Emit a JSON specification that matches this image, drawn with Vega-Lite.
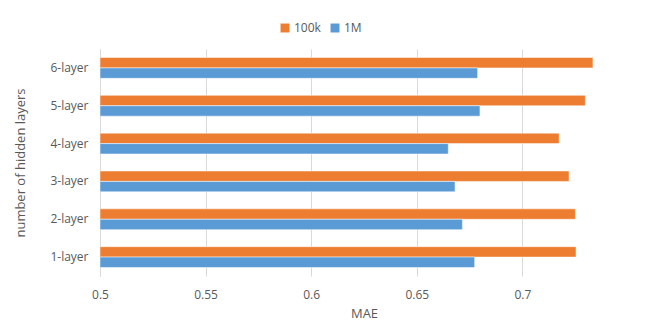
{
  "$schema": "https://vega.github.io/schema/vega-lite/v6.json",
  "autosize": "none",
  "width": 528,
  "height": 227,
  "padding": {"left": 100, "top": 49, "right": 17, "bottom": 57},
  "background": "white",
  "data": {
    "values": [
      {"layer": "6-layer", "series": "100k", "mae": 0.7334},
      {"layer": "6-layer", "series": "1M", "mae": 0.6788},
      {"layer": "5-layer", "series": "100k", "mae": 0.7298},
      {"layer": "5-layer", "series": "1M", "mae": 0.6799},
      {"layer": "4-layer", "series": "100k", "mae": 0.7174},
      {"layer": "4-layer", "series": "1M", "mae": 0.6649},
      {"layer": "3-layer", "series": "100k", "mae": 0.7221},
      {"layer": "3-layer", "series": "1M", "mae": 0.6681},
      {"layer": "2-layer", "series": "100k", "mae": 0.7251},
      {"layer": "2-layer", "series": "1M", "mae": 0.6716},
      {"layer": "1-layer", "series": "100k", "mae": 0.7254},
      {"layer": "1-layer", "series": "1M", "mae": 0.6774}
    ]
  },
  "mark": {"type": "bar", "stroke": "white", "strokeWidth": 0.5, "clip": true},
  "encoding": {
    "y": {
      "field": "layer",
      "type": "nominal",
      "sort": ["6-layer", "5-layer", "4-layer", "3-layer", "2-layer", "1-layer"],
      "scale": {"paddingInner": 0.45, "paddingOuter": 0.225},
      "axis": {
        "title": "number of hidden layers",
        "titleFont": "Open Sans",
        "titleFontSize": 13,
        "titleFontWeight": "normal",
        "titleColor": "#595959",
        "titlePadding": 22,
        "labelFont": "Open Sans",
        "labelFontSize": 12,
        "labelColor": "#595959",
        "labelPadding": 12,
        "ticks": false,
        "domainColor": "#d9d9d9"
      }
    },
    "yOffset": {"field": "series", "type": "nominal", "sort": ["100k", "1M"]},
    "x": {
      "field": "mae",
      "type": "quantitative",
      "scale": {"domain": [0.5, 0.75], "zero": false, "nice": false},
      "axis": {
        "title": "MAE",
        "titleFont": "Open Sans",
        "titleFontSize": 13,
        "titleFontWeight": "normal",
        "titleColor": "#595959",
        "titlePadding": 7,
        "values": [0.5, 0.55, 0.6, 0.65, 0.7],
        "format": "~g",
        "labelFlush": false,
        "labelFont": "Open Sans",
        "labelFontSize": 12,
        "labelColor": "#595959",
        "labelPadding": 13,
        "ticks": false,
        "domain": false,
        "gridColor": "#d9d9d9"
      }
    },
    "x2": {"datum": 0.5},
    "color": {
      "field": "series",
      "type": "nominal",
      "sort": ["100k", "1M"],
      "scale": {"domain": ["100k", "1M"], "range": ["#ED7D31", "#5B9BD5"]},
      "legend": {
        "title": null,
        "orient": "none",
        "direction": "horizontal",
        "legendX": 179,
        "legendY": -27,
        "symbolType": "square",
        "symbolSize": 80,
        "symbolStrokeWidth": 0,
        "labelFont": "Open Sans",
        "labelFontSize": 12,
        "labelColor": "#595959",
        "columnPadding": 8,
        "labelOffset": 3
      }
    }
  },
  "config": {"view": {"stroke": null}}
}
